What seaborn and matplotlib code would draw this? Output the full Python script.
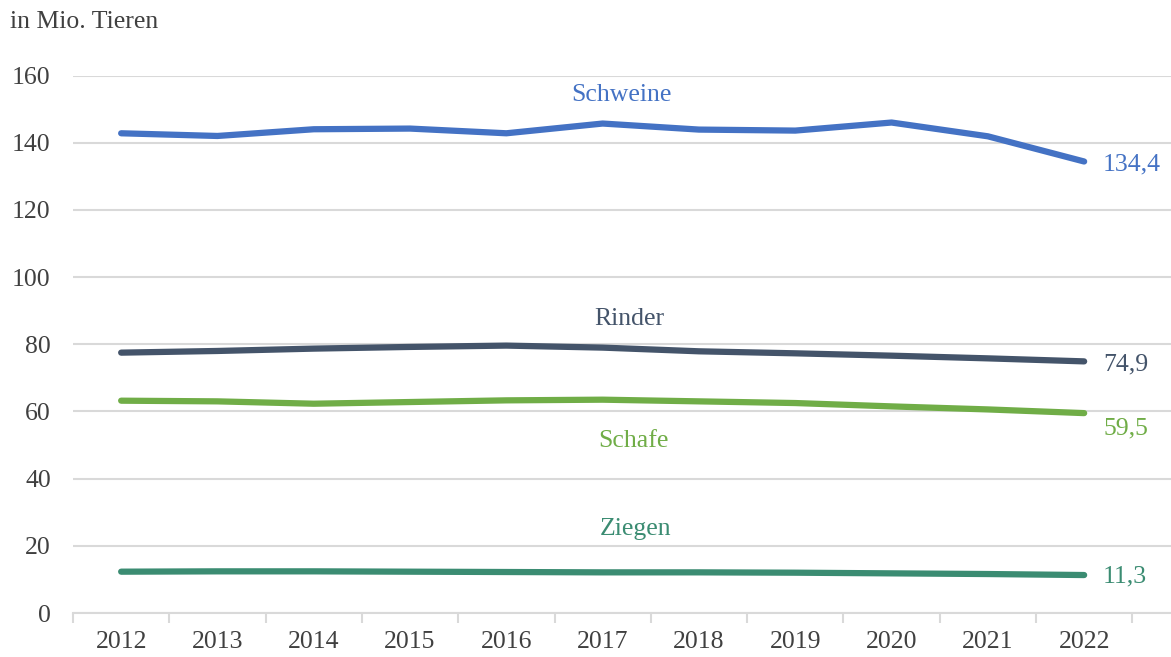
import pandas as pd
import seaborn as sns
import matplotlib.pyplot as plt
from matplotlib.ticker import FixedLocator

years = [2012, 2013, 2014, 2015, 2016, 2017, 2018, 2019, 2020, 2021, 2022]
schweine = [142.8, 142.0, 144.0, 144.2, 142.8, 145.7, 143.9, 143.6, 146.0, 141.9, 134.4]
rinder = [77.5, 78.0, 78.7, 79.2, 79.6, 79.0, 77.9, 77.3, 76.6, 75.8, 74.9]
schafe = [63.2, 63.0, 62.3, 62.8, 63.3, 63.5, 63.0, 62.5, 61.5, 60.6, 59.5]
ziegen = [12.3, 12.4, 12.4, 12.3, 12.2, 12.1, 12.1, 12.0, 11.8, 11.6, 11.3]

names = ['Schweine', 'Rinder', 'Schafe', 'Ziegen']
colors = {'Schweine': '#4472C4', 'Rinder': '#44546A', 'Schafe': '#70AD47', 'Ziegen': '#3B8C72'}

df = pd.DataFrame({'Jahr': years, 'Schweine': schweine, 'Rinder': rinder,
                   'Schafe': schafe, 'Ziegen': ziegen})
long = df.melt(id_vars='Jahr', var_name='Tier', value_name='Wert')

sns.set_style('white')
plt.rcParams['font.family'] = ['Liberation Serif', 'DejaVu Serif']
textcol = '#404040'
fs = 18.5

fig = plt.figure(figsize=(11.71, 6.57), dpi=100)
ax = fig.add_axes([73 / 1171, 44 / 657, 1098 / 1171, 537.5 / 657])

sns.lineplot(data=long, x='Jahr', y='Wert', hue='Tier', hue_order=names,
             palette=colors, linewidth=4.5, legend=False, ax=ax,
             solid_capstyle='round', zorder=3)
for l in ax.lines:
    l.set_clip_on(False)

ax.set_xlim(2011.5, 2011.5 + 1098 / 96.3)
ax.set_ylim(0, 160)
ax.set_yticks(range(0, 161, 20))
ax.set_xticks(years)
ax.set_xticklabels([str(y) for y in years])
ax.xaxis.set_minor_locator(FixedLocator([y - 0.5 for y in years] + [2022.5]))
ax.tick_params(axis='x', which='major', length=0, pad=13, labelsize=fs, labelcolor=textcol)
ax.tick_params(axis='x', which='minor', bottom=True, length=7, width=1.5,
               color='#D9D9D9', direction='out')
ax.tick_params(axis='y', length=0, pad=16, labelsize=fs, labelcolor=textcol)

ax.grid(axis='y', color='#D9D9D9', linewidth=1.5, zorder=0)
ax.set_axisbelow(True)
for s in ['top', 'right', 'left']:
    ax.spines[s].set_visible(False)
ax.spines['bottom'].set_color('#D9D9D9')
ax.spines['bottom'].set_linewidth(1.5)
ax.set_xlabel('')
ax.set_ylabel('')

# series names
name_pos = {'Schweine': (2017.2, 154.2), 'Rinder': (2017.28, 87.5),
            'Schafe': (2017.32, 51.2), 'Ziegen': (2017.34, 25.0)}
for n in names:
    x, y = name_pos[n]
    ax.text(x, y, n, color=colors[n], fontsize=fs, ha='center', va='center')

# end values
end_off = {'Schweine': -3, 'Rinder': -3, 'Schafe': -15, 'Ziegen': -1}
for n in names:
    v = df[n].iloc[-1]
    ax.annotate(f'{v:.1f}'.replace('.', ','), xy=(years[-1], v),
                xytext=(19, end_off[n]), textcoords='offset pixels',
                color=colors[n], fontsize=fs, ha='left', va='center')

fig.text(10 / 1171, 1 - 22 / 657, 'in Mio. Tieren', color=textcol,
         fontsize=fs, ha='left', va='center')

fig.savefig('out.png', dpi=100)
